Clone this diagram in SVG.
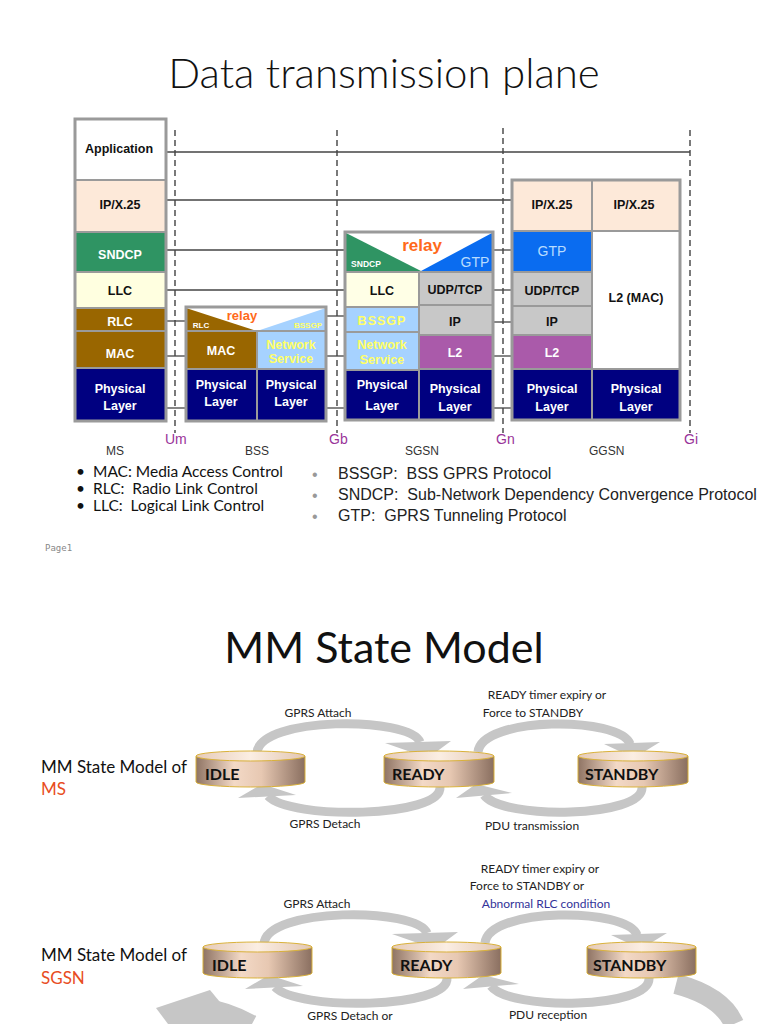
<svg xmlns="http://www.w3.org/2000/svg" width="768" height="1024" viewBox="0 0 768 1024">
<defs>
<style>
.cell{stroke:#9a9a9a;stroke-width:2}
.frame{fill:none;stroke:#9a9a9a;stroke-width:3}
.b{font-family:"Liberation Sans",Arial,sans-serif;font-weight:bold;font-size:12.5px;text-anchor:middle}
.w{fill:#ffffff}
.k{fill:#111111}
.y{fill:#ffff66}
.ln{stroke:#444;stroke-width:1.3;fill:none}
.ds{stroke:#333;stroke-width:1.3;stroke-dasharray:6,4;fill:none}
.lab{font-family:"Liberation Sans",Arial,sans-serif;font-size:12px;fill:#333}
.if{font-family:"Liberation Sans",Arial,sans-serif;font-size:14px;fill:#993399}
.cal{font-family:Lato,"Open Sans",sans-serif}
.pre{white-space:pre}
.arc{fill:none;stroke:#c6c6c6;stroke-width:9}
.head{fill:#c6c6c6}
.st{font-family:Lato,"Open Sans",sans-serif;font-size:12px;text-anchor:middle}
.cyl{font-family:Lato,"Open Sans",sans-serif;font-weight:bold;font-size:16px;fill:#111}
.cb{stroke:#d9b13a;stroke-width:1}
</style>
<linearGradient id="body" x1="0" y1="0" x2="1" y2="0">
<stop offset="0" stop-color="#8f7464"/>
<stop offset="0.35" stop-color="#f3d9c6"/>
<stop offset="0.6" stop-color="#e7c8b2"/>
<stop offset="1" stop-color="#8a6f60"/>
</linearGradient>
<linearGradient id="top" x1="0" y1="0" x2="1" y2="0">
<stop offset="0" stop-color="#e6cbb8"/>
<stop offset="0.5" stop-color="#fbeee3"/>
<stop offset="1" stop-color="#e2c6b2"/>
</linearGradient>
</defs>
<rect width="768" height="1024" fill="#ffffff"/>

<text x="384" y="88" text-anchor="middle" class="cal" font-size="42" font-weight="300" fill="#111">Data transmission plane</text>

<g id="interfaces">
<line class="ds" x1="175" y1="130" x2="175" y2="433"/>
<line class="ds" x1="337" y1="130" x2="337" y2="433"/>
<line class="ds" x1="503" y1="128" x2="503" y2="433" stroke-width="2"/>
<line class="ds" x1="690" y1="130" x2="690" y2="433"/>
</g>

<g id="connectors">
<line class="ln" x1="166" y1="152" x2="690" y2="152"/>
<line class="ln" x1="166" y1="200" x2="512" y2="200"/>
<line class="ln" x1="166" y1="250" x2="345" y2="250"/>
<line class="ln" x1="493" y1="250" x2="512" y2="250"/>
<line class="ln" x1="166" y1="290" x2="345" y2="290"/>
<line class="ln" x1="493" y1="290" x2="512" y2="290"/>
<line class="ln" x1="166" y1="321" x2="186" y2="321"/>
<line class="ln" x1="326" y1="316" x2="345" y2="316"/>
<line class="ln" x1="493" y1="322" x2="512" y2="322"/>
<line class="ln" x1="166" y1="356" x2="186" y2="356"/>
<line class="ln" x1="326" y1="356" x2="345" y2="356"/>
<line class="ln" x1="493" y1="356" x2="512" y2="356"/>
<line class="ln" x1="166" y1="408" x2="186" y2="408"/>
<line class="ln" x1="326" y1="408" x2="345" y2="408"/>
<line class="ln" x1="493" y1="408" x2="512" y2="408"/>
</g>

<g id="ms-stack">
<rect class="cell" x="75" y="119" width="91" height="61" fill="#ffffff"/>
<rect class="cell" x="75" y="180" width="91" height="52" fill="#fde9d9"/>
<rect class="cell" x="75" y="232" width="91" height="40" fill="#2f9463"/>
<rect class="cell" x="75" y="272" width="91" height="36" fill="#ffffe0"/>
<rect class="cell" x="75" y="308" width="91" height="23" fill="#996600"/>
<rect class="cell" x="75" y="331" width="91" height="37" fill="#996600"/>
<rect class="cell" x="75" y="368" width="91" height="53" fill="#000080"/>
<rect class="frame" x="75" y="119" width="91" height="302"/>
<text class="b k" x="119" y="153">Application</text>
<text class="b k" x="120" y="209">IP/X.25</text>
<text class="b w" x="120" y="259">SNDCP</text>
<text class="b k" x="120" y="295">LLC</text>
<text class="b w" x="120" y="326">RLC</text>
<text class="b w" x="120" y="358">MAC</text>
<text class="b w" x="120" y="393">Physical</text>
<text class="b w" x="120" y="410">Layer</text>
</g>

<g id="bss-stack">
<rect class="cell" x="186" y="307" width="140" height="24" fill="#ffffff"/>
<polygon points="186,308 257,331 186,331" fill="#996600"/>
<polygon points="257,331 326,308 326,331" fill="#a6d2ff"/>
<rect class="cell" x="186" y="331" width="71" height="38" fill="#996600"/>
<rect class="cell" x="257" y="331" width="69" height="38" fill="#a6d2ff"/>
<rect class="cell" x="186" y="369" width="71" height="52" fill="#000080"/>
<rect class="cell" x="257" y="369" width="69" height="52" fill="#000080"/>
<rect class="frame" x="186" y="307" width="140" height="114"/>
<text x="242" y="320" text-anchor="middle" font-family="Liberation Sans,Arial,sans-serif" font-weight="bold" font-size="13" fill="#ff6a1a">relay</text>
<text x="201" y="328" text-anchor="middle" font-family="Liberation Sans,Arial,sans-serif" font-weight="bold" font-size="8" fill="#ffffff">RLC</text>
<text x="308" y="328" text-anchor="middle" font-family="Liberation Sans,Arial,sans-serif" font-weight="bold" font-size="8" fill="#ffff66">BSSGP</text>
<text class="b w" x="221" y="355">MAC</text>
<text class="b y" x="291" y="349">Network</text>
<text class="b y" x="291" y="363">Service</text>
<text class="b w" x="221" y="389">Physical</text>
<text class="b w" x="221" y="406">Layer</text>
<text class="b w" x="291" y="389">Physical</text>
<text class="b w" x="291" y="406">Layer</text>
</g>

<g id="sgsn-stack">
<rect class="cell" x="345" y="232" width="148" height="40" fill="#ffffff"/>
<polygon points="346,233 421,271 346,271" fill="#2f9463"/>
<polygon points="421,271 492,233 492,271" fill="#0a6cf0"/>
<rect class="cell" x="345" y="272" width="74" height="35" fill="#ffffe6"/>
<rect class="cell" x="345" y="307" width="74" height="25" fill="#a6d2ff"/>
<rect class="cell" x="345" y="332" width="74" height="38" fill="#a6d2ff"/>
<rect class="cell" x="345" y="370" width="74" height="50" fill="#000080"/>
<rect class="cell" x="419" y="272" width="74" height="33" fill="#c8c8c8"/>
<rect class="cell" x="419" y="305" width="74" height="30" fill="#c8c8c8"/>
<rect class="cell" x="419" y="335" width="74" height="34" fill="#aa5aaa"/>
<rect class="cell" x="419" y="369" width="74" height="51" fill="#000080"/>
<rect class="frame" x="345" y="232" width="148" height="188"/>
<text x="422" y="251" text-anchor="middle" font-family="Liberation Sans,Arial,sans-serif" font-weight="bold" font-size="17" fill="#ff6a1a">relay</text>
<text x="366" y="267" text-anchor="middle" font-family="Liberation Sans,Arial,sans-serif" font-weight="bold" font-size="8.5" fill="#ffffff">SNDCP</text>
<text x="475" y="267" text-anchor="middle" font-family="Liberation Sans,Arial,sans-serif" font-size="14" fill="#b8dcff">GTP</text>
<text class="b k" x="382" y="295">LLC</text>
<text class="b y" x="382" y="325" letter-spacing="1">BSSGP</text>
<text class="b y" x="382" y="349">Network</text>
<text class="b y" x="382" y="364">Service</text>
<text class="b w" x="382" y="389">Physical</text>
<text class="b w" x="382" y="410">Layer</text>
<text class="b k" x="455" y="294">UDP/TCP</text>
<text class="b k" x="455" y="326">IP</text>
<text class="b w" x="455" y="357">L2</text>
<text class="b w" x="455" y="393">Physical</text>
<text class="b w" x="455" y="411">Layer</text>
</g>

<g id="ggsn-stack">
<rect class="cell" x="512" y="180" width="80" height="51" fill="#fde9d9"/>
<rect class="cell" x="592" y="180" width="88" height="51" fill="#fde9d9"/>
<rect class="cell" x="512" y="231" width="80" height="41" fill="#0a6cf0"/>
<rect class="cell" x="512" y="272" width="80" height="34" fill="#c8c8c8"/>
<rect class="cell" x="512" y="306" width="80" height="29" fill="#c8c8c8"/>
<rect class="cell" x="512" y="335" width="80" height="34" fill="#aa5aaa"/>
<rect class="cell" x="592" y="231" width="88" height="138" fill="#ffffff"/>
<rect class="cell" x="512" y="369" width="80" height="51" fill="#000080"/>
<rect class="cell" x="592" y="369" width="88" height="51" fill="#000080"/>
<rect class="frame" x="512" y="180" width="168" height="240"/>
<text class="b k" x="552" y="209">IP/X.25</text>
<text class="b k" x="634" y="209">IP/X.25</text>
<text x="552" y="256" text-anchor="middle" font-family="Liberation Sans,Arial,sans-serif" font-size="14" fill="#b8dcff">GTP</text>
<text class="b k" x="552" y="295">UDP/TCP</text>
<text class="b k" x="552" y="326">IP</text>
<text class="b w" x="552" y="357">L2</text>
<text class="b k" x="636" y="302">L2 (MAC)</text>
<text class="b w" x="552" y="393">Physical</text>
<text class="b w" x="552" y="411">Layer</text>
<text class="b w" x="636" y="393">Physical</text>
<text class="b w" x="636" y="411">Layer</text>
</g>

<g id="entity-labels">
<text class="lab" x="106" y="455">MS</text>
<text class="if" x="165" y="444">Um</text>
<text class="lab" x="245" y="455">BSS</text>
<text class="if" x="329" y="444">Gb</text>
<text class="lab" x="405" y="455">SGSN</text>
<text class="if" x="496" y="444">Gn</text>
<text class="lab" x="589" y="455">GGSN</text>
<text class="if" x="684" y="444">Gi</text>
</g>

<g id="legend">
<g class="cal pre" font-size="15.5" fill="#111">
<text x="76" y="477">•</text><text class="pre" x="93" y="477">MAC: Media Access Control</text>
<text x="76" y="494">•</text><text class="pre" x="93" y="494">RLC:  Radio Link Control</text>
<text x="76" y="511">•</text><text class="pre" x="93" y="511">LLC:  Logical Link Control</text>
</g>
<g font-family="Liberation Sans,Arial,sans-serif" font-size="16" fill="#222">
<text x="312" y="480" fill="#999">•</text><text class="pre" x="338" y="479">BSSGP:  BSS GPRS Protocol</text>
<text x="312" y="501" fill="#999">•</text><text class="pre" x="338" y="500">SNDCP:  Sub-Network Dependency Convergence Protocol</text>
<text x="312" y="522" fill="#999">•</text><text class="pre" x="338" y="521">GTP:  GPRS Tunneling Protocol</text>
</g>
<text x="45" y="551" font-family="DejaVu Sans Mono,monospace" font-size="9" fill="#888">Page1</text>
</g>

<text x="384" y="663" text-anchor="middle" class="cal" font-size="43" fill="#111">MM State Model</text>

<g id="ms-model-title" class="cal" font-size="17">
<text x="41" y="773" fill="#111">MM State Model of</text>
<text x="41" y="795" fill="#e84c22">MS</text>
</g>

<g id="ms-transitions">
<path class="arc" d="M257,753 C259,716 410,716 420,742"/>
<polygon class="head" points="385,743 451,741 428,758"/>
<path class="arc" d="M440,787 C442,818 290,820 268,796"/>
<polygon class="head" points="238,798 296,795 262,784"/>
<path class="arc" d="M478,752 C482,716 620,716 630,744"/>
<polygon class="head" points="604,744 660,742 634,758"/>
<path class="arc" d="M642,787 C644,818 502,820 484,795"/>
<polygon class="head" points="456,798 512,793 476,784"/>
<text class="st" x="318" y="717" fill="#222">GPRS Attach</text>
<text class="st" x="547" y="699" fill="#222">READY timer expiry or</text>
<text class="st" x="533" y="717" fill="#222">Force to STANDBY</text>
<text class="st" x="325" y="828" fill="#222">GPRS Detach</text>
<text class="st" x="532" y="830" fill="#222">PDU transmission</text>
</g>

<g id="ms-idle">
<path class="cb" d="M196,756 L196,782 A54.5,5 0 0 0 305,782 L305,756 Z" fill="url(#body)"/>
<ellipse class="cb" cx="250.5" cy="756" rx="54.5" ry="5" fill="url(#top)"/>
<text class="cyl" x="205" y="780">IDLE</text>
</g>
<g id="ms-ready">
<path class="cb" d="M384,756 L384,782 A55,5 0 0 0 494,782 L494,756 Z" fill="url(#body)"/>
<ellipse class="cb" cx="439" cy="756" rx="55" ry="5" fill="url(#top)"/>
<text class="cyl" x="392" y="780">READY</text>
</g>
<g id="ms-standby">
<path class="cb" d="M578,756 L578,782 A55,5 0 0 0 688,782 L688,756 Z" fill="url(#body)"/>
<ellipse class="cb" cx="633" cy="756" rx="55" ry="5" fill="url(#top)"/>
<text class="cyl" x="585" y="780">STANDBY</text>
</g>

<g id="sgsn-model-title" class="cal" font-size="17">
<text x="41" y="961" fill="#111">MM State Model of</text>
<text x="41" y="984" fill="#e84c22">SGSN</text>
</g>

<g id="sgsn-transitions">
<path class="arc" d="M264,944 C266,907 417,907 427,933"/>
<polygon class="head" points="392,934 458,932 435,949"/>
<path class="arc" d="M447,978 C449,1009 297,1011 275,987"/>
<polygon class="head" points="245,989 303,986 269,975"/>
<path class="arc" d="M485,943 C489,907 627,907 637,935"/>
<polygon class="head" points="611,935 667,933 641,949"/>
<path class="arc" d="M649,978 C651,1009 509,1011 491,986"/>
<polygon class="head" points="463,989 519,984 483,975"/>
<path fill="none" stroke="#c6c6c6" stroke-width="20" d="M676,984 Q722,996 734,1024"/>
<path fill="none" stroke="#c6c6c6" stroke-width="18" d="M252,1024 Q226,1010 205,1008"/>
<polygon class="head" points="156,1008 210,990 238,1024 168,1024"/>
<text class="st" x="317" y="908" fill="#222">GPRS Attach</text>
<text class="st" x="540" y="873" fill="#222">READY timer expiry or</text>
<text class="st" x="527" y="890" fill="#222">Force to STANDBY or</text>
<text class="st" x="546" y="908" fill="#333399">Abnormal RLC condition</text>
<text class="st" x="350" y="1020" fill="#222">GPRS Detach or</text>
<text class="st" x="548" y="1019" fill="#222">PDU reception</text>
</g>

<g id="sgsn-idle">
<path class="cb" d="M203,947 L203,973 A54.5,5 0 0 0 312,973 L312,947 Z" fill="url(#body)"/>
<ellipse class="cb" cx="257.5" cy="947" rx="54.5" ry="5" fill="url(#top)"/>
<text class="cyl" x="212" y="971">IDLE</text>
</g>
<g id="sgsn-ready">
<path class="cb" d="M392,947 L392,973 A54.5,5 0 0 0 501,973 L501,947 Z" fill="url(#body)"/>
<ellipse class="cb" cx="446.5" cy="947" rx="54.5" ry="5" fill="url(#top)"/>
<text class="cyl" x="400" y="971">READY</text>
</g>
<g id="sgsn-standby">
<path class="cb" d="M587,947 L587,973 A54.5,5 0 0 0 696,973 L696,947 Z" fill="url(#body)"/>
<ellipse class="cb" cx="641.5" cy="947" rx="54.5" ry="5" fill="url(#top)"/>
<text class="cyl" x="593" y="971">STANDBY</text>
</g>
</svg>
